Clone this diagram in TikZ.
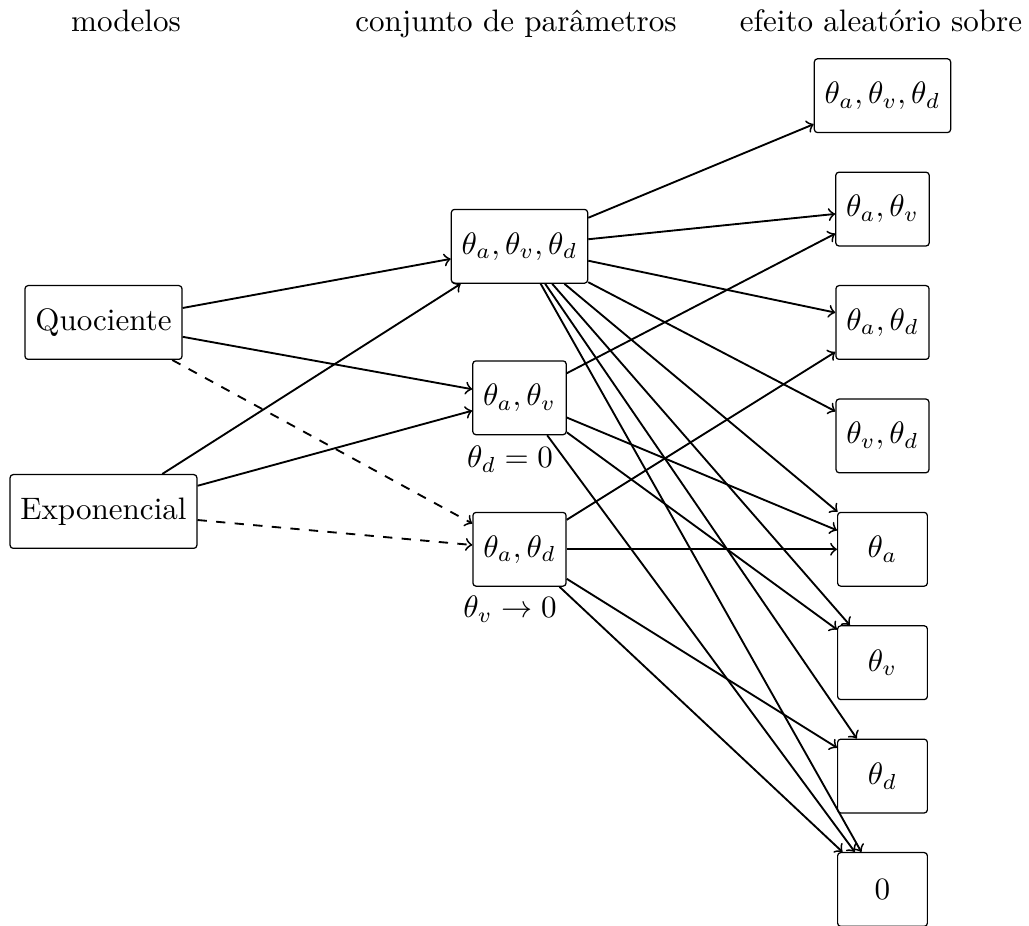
\documentclass[tikz,border=0pt]{standalone}
\begin{document}
\begin{tikzpicture}[x=0.322pt,y=-0.322pt,
  box/.style={draw, rounded corners=1pt, minimum width=28.9pt, minimum height=23.75pt, inner sep=3.33pt},
  edge/.style={->, semithick},
  dedge/.style={->, semithick, dashed},
  head/.style={anchor=base, inner sep=0pt},
  lab/.style={anchor=base, inner sep=0pt}]
\useasboundingbox (0,0) rectangle (1029,926);
% headers
\node[head] (h1) at (126,32) {modelos};
\node[head] (h2) at (516,32) {conjunto de parâmetros};
\node[head] (h3) at (881,32) {efeito aleatório sobre};
% left column
\node[box] (Q) at (103.5,322.5) {Quociente};
\node[box] (E) at (103.5,511.5) {Exponencial};
% middle column
\node[box] (M1) at (519.5,246.3) {$\theta_a,\theta_v,\theta_d$};
\node[box] (M2) at (519.5,397.8) {$\theta_a,\theta_v$};
\node[box] (M3) at (519.5,549.3) {$\theta_a,\theta_d$};
\node[lab] (L2) at (510,468) {$\theta_d=0$};
\node[lab] (L3) at (510,618) {$\theta_v\to0$};
% right column
\node[box] (R1) at (882.5,95.7) {$\theta_a,\theta_v,\theta_d$};
\node[box] (R2) at (882.5,209.1) {$\theta_a,\theta_v$};
\node[box] (R3) at (882.5,322.5) {$\theta_a,\theta_d$};
\node[box] (R4) at (882.5,435.9) {$\theta_v,\theta_d$};
\node[box] (R5) at (882.5,549.3) {$\theta_a$};
\node[box] (R6) at (882.5,662.7) {$\theta_v$};
\node[box] (R7) at (882.5,776.1) {$\theta_d$};
\node[box] (R8) at (882.5,889.5) {$0$};
% left edges
\draw[edge] (Q) -- (M1);
\draw[edge] (Q) -- (M2);
\draw[dedge] (Q) -- (M3);
\draw[edge] (E) -- (M1);
\draw[edge] (E) -- (M2);
\draw[dedge] (E) -- (M3);
% right edges
\foreach \r in {R1,R2,R3,R4,R5,R6,R7,R8} \draw[edge] (M1) -- (\r);
\foreach \r in {R2,R5,R6,R8} \draw[edge] (M2) -- (\r);
\foreach \r in {R3,R5,R7,R8} \draw[edge] (M3) -- (\r);
\end{tikzpicture}
\end{document}
